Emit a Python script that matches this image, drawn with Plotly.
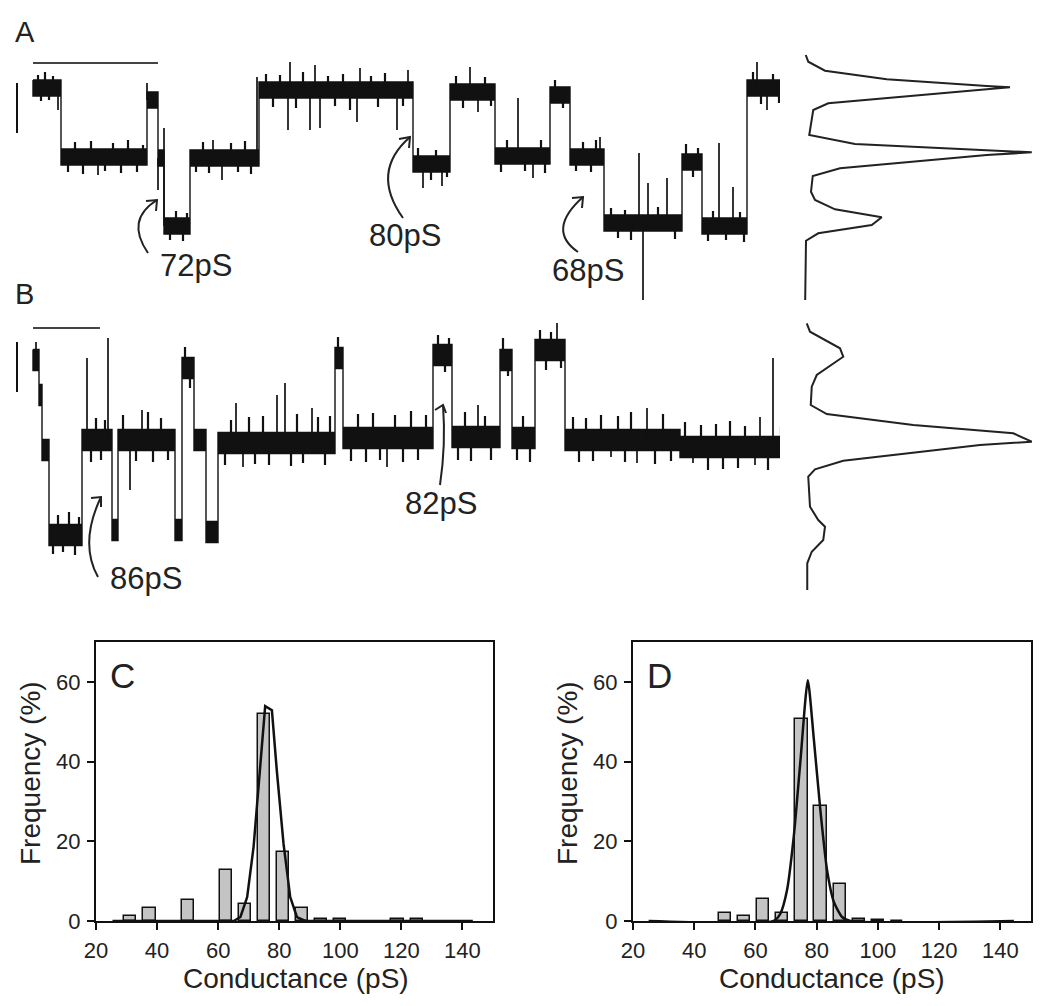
import plotly.graph_objects as go

# ---------------- data ----------------
# Trace A: step levels (time in ms, current in pA)
A_seg_start_ms = [0, 28, 114, 125, 131, 157, 226, 380, 417, 462, 517, 537, 571, 649, 669, 714]
A_end_ms = 764
A_level_pA = [21.2, 14.3, 20.0, 14.2, 7.4, 14.2, 21.0, 13.6, 20.8, 14.4, 20.5, 14.3, 7.7, 13.8, 7.4, 21.2]
# brief excursions (time, peak current)
A_spike_ms = [25, 65, 114, 125, 131, 180, 189, 224, 255, 257, 277, 282, 287, 324, 327, 364, 375,
              390, 409, 437, 445, 485, 500, 567, 606, 610, 615, 634, 686, 700, 724, 734, 759]
A_spike_pA = [19.0, 12.5, 21.7, 11.0, 17.2, 16.0, 12.0, 22.3, 17.0, 23.8, 17.0, 23.5, 17.2, 17.8, 23.2, 17.0, 23.0,
              11.2, 11.4, 23.3, 18.8, 20.2, 12.2, 16.3, 14.7, -0.7, 11.7, 12.2, 15.7, 11.3, 23.8, 19.0, 23.8]
# open-channel noise excursions
A_noise_ms = [5, 8, 12, 16, 20, 35, 42, 50, 58, 72, 80, 88, 95, 104, 110, 137, 143, 150, 154, 163, 170, 176,
              198, 205, 212, 218, 233, 240, 247, 263, 270, 295, 302, 310, 317, 338, 345, 352, 370, 385, 398,
              403, 414, 423, 430, 452, 458, 468, 474, 492, 508, 512, 522, 530, 543, 550, 558, 563, 578, 585,
              592, 598, 625, 642, 653, 660, 665, 675, 680, 693, 707, 711, 720, 728, 740, 746, 752, 763]
A_noise_pA = [22.5, 19.9, 22.8, 20.0, 22.4, 12.8, 15.8, 12.6, 15.9, 12.9, 15.7, 12.7, 16.0, 12.8, 15.5, 6.0, 8.9,
              5.9, 8.7, 12.8, 15.8, 12.7, 15.7, 12.8, 15.9, 12.6, 22.6, 19.3, 22.5, 19.2, 22.8, 22.4, 19.4,
              22.6, 19.0, 22.4, 19.3, 22.7, 19.4, 15.2, 12.0, 15.0, 12.3, 22.4, 19.2, 22.3, 19.4, 12.8, 16.0,
              12.9, 16.0, 12.7, 22.0, 19.2, 12.9, 15.8, 12.8, 16.0, 9.2, 6.2, 9.0, 6.0, 9.3, 6.1, 15.6, 12.3,
              15.2, 5.9, 8.9, 6.0, 8.8, 5.8, 22.8, 19.6, 22.6, 19.7, 22.9, 20.0]
A_band_pA = 0.8

# Trace B
B_seg_start_ms = [0, 6, 9, 16, 49, 79, 85, 142, 149, 161, 173, 185, 302, 310, 400, 419, 467, 479, 502, 532, 647, 754]
B_end_ms = 772
B_level_pA = [24.0, 20.5, 15.0, 6.5, 16.0, 7.0, 16.0, 7.0, 23.2, 16.0, 6.8, 15.7, 24.2, 16.2, 24.5, 16.3,
              24.0, 16.2, 25.0, 16.0, 15.3, 24.5]
B_spike_ms = [3, 54, 75, 97, 109, 203, 210, 244, 252, 279, 354, 445, 524, 578, 604, 614, 660, 722, 727, 740, 770]
B_spike_pA = [25.8, 24.2, 26.2, 11.0, 19.0, 19.7, 13.3, 20.5, 21.7, 19.2, 13.3, 19.5, 27.7, 14.3, 13.7, 19.2,
              13.7, 13.5, 18.3, 24.2, 27.0]
B_noise_ms = [20, 25, 30, 36, 42, 46, 58, 63, 68, 72, 90, 103, 115, 120, 128, 135, 152, 157, 192, 198, 216, 222,
              230, 236, 258, 264, 270, 285, 292, 297, 305, 318, 325, 333, 340, 347, 362, 370, 378, 385, 393,
              405, 412, 416, 425, 432, 438, 452, 458, 470, 475, 484, 490, 497, 507, 513, 518, 528, 540, 546,
              553, 560, 568, 585, 592, 598, 622, 630, 638, 652, 668, 675, 683, 690, 697, 705, 712, 735, 748,
              758, 762, 767]
B_noise_pA = [4.6, 8.5, 4.8, 8.8, 4.5, 8.3, 13.8, 18.2, 14.0, 18.0, 18.5, 13.9, 18.8, 13.8, 18.2, 14.0, 25.3,
              21.2, 13.5, 18.0, 18.3, 13.6, 18.4, 13.5, 13.4, 18.6, 13.7, 18.3, 13.5, 18.4, 26.3, 13.9, 18.6,
              13.8, 18.7, 14.0, 18.5, 13.8, 18.9, 14.0, 18.5, 26.5, 22.8, 26.2, 14.0, 18.8, 13.9, 18.4, 14.0,
              26.2, 22.4, 14.0, 18.4, 13.8, 27.0, 23.0, 26.8, 23.2, 18.3, 13.8, 18.2, 13.9, 18.5, 18.4, 13.8,
              18.8, 13.6, 18.6, 13.9, 17.8, 17.5, 13.0, 17.6, 13.1, 17.9, 13.2, 17.4, 13.0, 17.3, 22.5, 26.5,
              22.8]
B_band_pA = 1.05

# All-points amplitude histograms (counts, arbitrary) vs current (pA)
A_hist_counts = [0.3, 1.3, 8, 32.7, 72.7, 82, 72.7, 9.3, 3.3, 1.7, 20, 72.7, 90.7, 72.7, 14, 3.1, 2.4, 4, 12,
                 30.7, 26.7, 5.3, 0.4, 0]
A_hist_pA = [24.5, 23.83, 22.93, 22.07, 21.4, 21.27, 21.07, 19.67, 19.0, 16.5, 15.6, 14.93, 14.77, 14.5, 13.17,
             12.4, 10.83, 10.0, 9.07, 8.27, 7.5, 6.67, 5.93, -1.33]
B_hist_counts = [0.7, 2, 14, 15.3, 4.7, 2.7, 2.3, 8.7, 43.3, 83.3, 90.7, 70, 15.3, 4, 1.3, 2, 5.3, 8, 7.3, 2.7,
                 0.9, 0.9]
B_hist_pA = [27.67, 26.83, 25.17, 24.33, 22.5, 21.33, 19.5, 18.6, 17.5, 16.67, 15.83, 15.5, 13.93, 13.07, 12.33,
             9.33, 8.0, 7.33, 6.0, 4.83, 3.67, 1.0]

# Conductance histograms
C_bin_pS = [31.25, 37.5, 50, 62.5, 68.75, 75, 81.25, 87.5, 93.75, 100, 118.75, 125]
C_freq = [1.2, 3.3, 5.3, 12.7, 4.2, 52.0, 17.4, 3.3, 0.4, 0.4, 0.4, 0.4]
C_fit_pS = [25.4, 65.1, 67.3, 69.5, 71.6, 73.8, 75.4, 77.6, 79.2, 81.4, 83.6, 85.8, 88.5, 143.4]
C_fit_freq = [0, 0, 1.0, 6.0, 18.6, 39.5, 53.9, 52.9, 37.8, 19.4, 6.0, 1.0, 0, 0]

D_bin_pS = [50, 56.25, 62.5, 68.75, 75, 81.25, 87.5, 93.75, 100, 106.25]
D_freq = [2.0, 1.3, 5.6, 2.0, 50.7, 28.8, 9.2, 0.6, 0.2, 0.1]
D_fit_pS = [25.1, 65.9, 68.1, 70.3, 72.5, 74.7, 77.1, 79.0, 81.2, 83.4, 85.6, 88.3, 91.0, 144.4]
D_fit_freq = [0, 0, 1.8, 7.7, 21.1, 40.3, 60.4, 46.2, 27.8, 12.7, 4.8, 1.0, 0, 0]

x_ticks = [20, 40, 60, 80, 100, 120, 140]
y_ticks = [0, 20, 40, 60]

FONT = "Liberation Sans, Arial, sans-serif"
W, H = 1050, 1006


def PX(x):
    return x / W


def PY(y):
    return 1 - y / H


def band(starts, end, levels, h):
    ends = starts[1:] + [end]
    xu, yu, xl, yl = [], [], [], []
    for s, e, l in zip(starts, ends, levels):
        xu += [s, e]
        yu += [l + h, l + h]
        xl += [s, e]
        yl += [l - h, l - h]
    return xu + xl[::-1] + [xu[0]], yu + yl[::-1] + [yu[0]]


def spikes(starts, levels, ts, ps):
    xs, ys = [], []
    for t, p in zip(ts, ps):
        k = max(i for i, s in enumerate(starts) if s <= t)
        xs += [t, t, None]
        ys += [levels[k], p, None]
    return xs, ys


fig = go.Figure()


def add_record(starts, end, levels, h, sp_t, sp_p, nz_t, nz_p, xa, ya):
    bx, by = band(starts, end, levels, h)
    fig.add_trace(go.Scatter(x=bx, y=by, mode="lines", fill="toself", fillcolor="#111",
                             line=dict(color="#111", width=1.4), xaxis=xa, yaxis=ya, hoverinfo="skip"))
    nx, ny = spikes(starts, levels, nz_t, nz_p)
    fig.add_trace(go.Scatter(x=nx, y=ny, mode="lines", line=dict(color="#111", width=2.2),
                             xaxis=xa, yaxis=ya, hoverinfo="skip"))
    sx, sy = spikes(starts, levels, sp_t, sp_p)
    fig.add_trace(go.Scatter(x=sx, y=sy, mode="lines", line=dict(color="#111", width=1.7),
                             xaxis=xa, yaxis=ya, hoverinfo="skip"))


add_record(A_seg_start_ms, A_end_ms, A_level_pA, A_band_pA, A_spike_ms, A_spike_pA, A_noise_ms, A_noise_pA, "x", "y")
fig.add_trace(go.Scatter(x=A_hist_counts, y=A_hist_pA, mode="lines", line=dict(color="#222", width=2),
                         xaxis="x2", yaxis="y", hoverinfo="skip"))
add_record(B_seg_start_ms, B_end_ms, B_level_pA, B_band_pA, B_spike_ms, B_spike_pA, B_noise_ms, B_noise_pA, "x3", "y3")
fig.add_trace(go.Scatter(x=B_hist_counts, y=B_hist_pA, mode="lines", line=dict(color="#222", width=2),
                         xaxis="x4", yaxis="y3", hoverinfo="skip"))

# ---- histograms C, D ----
fig.add_trace(go.Bar(x=C_bin_pS, y=C_freq, width=4, marker=dict(color="#c4c4c4", line=dict(color="#111", width=1.5)),
                     xaxis="x5", yaxis="y5", hoverinfo="skip"))
fig.add_trace(go.Scatter(x=C_fit_pS, y=C_fit_freq, mode="lines", line=dict(color="#111", width=2.5),
                         xaxis="x5", yaxis="y5", hoverinfo="skip"))
fig.add_trace(go.Bar(x=D_bin_pS, y=D_freq, width=4, marker=dict(color="#c4c4c4", line=dict(color="#111", width=1.5)),
                     xaxis="x6", yaxis="y6", hoverinfo="skip"))
fig.add_trace(go.Scatter(x=D_fit_pS, y=D_fit_freq, mode="lines",
                         line=dict(color="#111", width=2.5, shape="spline", smoothing=0.6),
                         xaxis="x6", yaxis="y6", hoverinfo="skip"))

hidden = dict(visible=False, showgrid=False, zeroline=False, fixedrange=True, automargin=False)
hist_ax = dict(showline=True, mirror=True, linecolor="#111", linewidth=2, ticks="outside", ticklen=7,
               tickwidth=2, tickcolor="#111", showgrid=False, zeroline=False, automargin=False,
               tickfont=dict(family=FONT, size=22, color="#222"), ticklabelstandoff=2)

fig.update_layout(
    width=W, height=H, margin=dict(l=0, r=0, t=0, b=0, pad=0, autoexpand=False), showlegend=False,
    paper_bgcolor="white", plot_bgcolor="white",
    xaxis=dict(domain=[0, PX(800)], range=[-33, 767], anchor="y", **hidden),
    yaxis=dict(domain=[PY(320), 1], range=[-2, 30], anchor="x", **hidden),
    xaxis2=dict(domain=[PX(780), 1], range=[-10, 98], anchor="y", **hidden),
    xaxis3=dict(domain=[0, PX(810)], range=[-33, 777], anchor="y3", **hidden),
    yaxis3=dict(domain=[PY(620), PY(300)], range=[-2, 30], anchor="x3", **hidden),
    xaxis4=dict(domain=[PX(780), 1], range=[-10, 98], anchor="y3", **hidden),
    xaxis5=dict(domain=[PX(96), PX(493)], range=[20, 150], tickvals=x_ticks, anchor="y5", **hist_ax),
    yaxis5=dict(domain=[PY(921), PY(642)], range=[0, 70], tickvals=y_ticks, anchor="x5", **hist_ax),
    xaxis6=dict(domain=[PX(633), PX(1031)], range=[20, 150], tickvals=x_ticks, anchor="y6", **hist_ax),
    yaxis6=dict(domain=[PY(921), PY(642)], range=[0, 70], tickvals=y_ticks, anchor="x6", **hist_ax),
    bargap=0,
)

shapes = []
# scale bars
shapes.append(dict(type="line", xref="x", yref="y", x0=0, x1=125, y0=23.7, y1=23.7, line=dict(color="#444", width=2)))
shapes.append(dict(type="line", xref="x", yref="y", x0=-16, x1=-16, y0=16.7, y1=21.7, line=dict(color="#111", width=2)))
shapes.append(dict(type="line", xref="x3", yref="y3", x0=0, x1=67, y0=27.2, y1=27.2, line=dict(color="#444", width=2)))
shapes.append(dict(type="line", xref="x3", yref="y3", x0=-16, x1=-16, y0=20.8, y1=25.8, line=dict(color="#111", width=2)))

# curved arrows (pixel positions -> paper)
arrows = [
    ((148, 253), (125, 220), (157, 200), (146, 201), (156, 211)),
    ((403, 218), (370, 172), (410, 137), (399, 139), (409, 148)),
    ((578, 252), (546, 230), (583, 197), (572, 198), (582, 208)),
    ((98, 577), (79, 543), (101, 497), (91, 498), (101, 507)),
    ((440, 485), (446, 445), (443, 405), (435, 410), (446, 413)),
]
for s, c, t, a1, a2 in arrows:
    shapes.append(dict(type="path", xref="paper", yref="paper",
                       path=f"M {PX(s[0])},{PY(s[1])} Q {PX(c[0])},{PY(c[1])} {PX(t[0])},{PY(t[1])}",
                       line=dict(color="#222", width=2)))
    shapes.append(dict(type="path", xref="paper", yref="paper",
                       path=f"M {PX(a1[0])},{PY(a1[1])} L {PX(t[0])},{PY(t[1])} L {PX(a2[0])},{PY(a2[1])}",
                       line=dict(color="#222", width=2)))
fig.update_layout(shapes=shapes)

ann = []


def label(text, x, y, size, angle=0):
    ann.append(dict(text=text, x=PX(x), y=PY(y), xref="paper", yref="paper", showarrow=False,
                    xanchor="center", yanchor="middle", textangle=angle,
                    font=dict(family=FONT, size=size, color="#222")))


label("A", 25, 32, 29)
label("B", 24, 294, 29)
label("72pS", 196, 265, 31)
label("80pS", 405, 235, 31)
label("68pS", 588, 270, 31)
label("86pS", 146, 578, 31)
label("82pS", 441, 503, 31)
label("C", 122, 675, 35)
label("D", 659, 675, 35)
label("Conductance (pS)", 296, 978, 28)
label("Conductance (pS)", 832, 978, 28)
label("Frequency (%)", 30, 773, 28, -90)
label("Frequency (%)", 567, 773, 28, -90)
fig.update_layout(annotations=ann)

fig.write_html("out.html", config={"displayModeBar": False},
               post_script="document.documentElement.style.margin='0px';document.documentElement.style.padding='0px';"
                           "document.body.style.margin='0px';document.body.style.padding='0px';"
                           "document.documentElement.style.overflow='hidden';document.body.style.overflow='hidden';")
